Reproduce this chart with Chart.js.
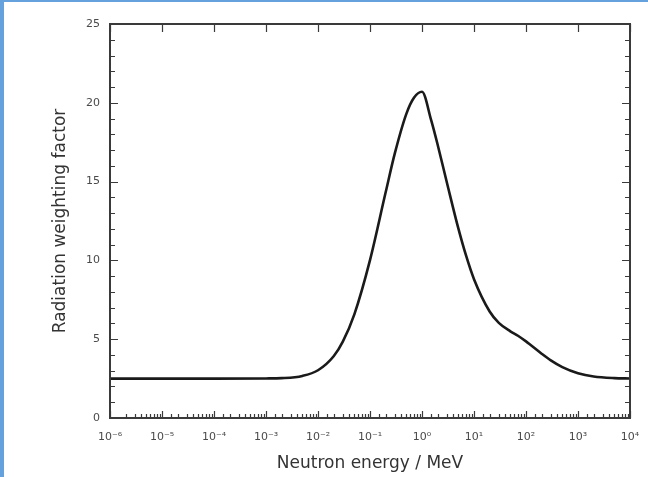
<!DOCTYPE html>
<html>
<head>
<meta charset="utf-8">
<script src="https://cdn.jsdelivr.net/npm/chart.js@4"></script>
<style>
  html, body { margin: 0; padding: 0; background: #fff; }
  #wrap {
    width: 648px; height: 477px; box-sizing: border-box;
    border-left: 4px solid #65a1dd; border-top: 2px solid #65a1dd;
  }
  canvas { display: block; }
</style>
</head>
<body>
<div id="wrap"><canvas id="chart" width="644" height="475"></canvas></div>
<script>
// Facteur de pondération neutrons vs énergie.
var energyMeV = [1e-6, 1e-5, 1e-4, 1e-3, 2e-3, 5e-3, 0.01, 0.02, 0.03, 0.05,
  0.1, 0.2, 0.3, 0.5, 0.7, 1, 1.5, 2, 3, 5, 7, 10, 20, 30, 50, 70,
  100, 200, 300, 500, 1000, 2000, 5000, 10000];
var weightFactor = [2.5, 2.5, 2.5, 2.51, 2.53, 2.67, 3.03, 3.92, 4.85, 6.58,
  10.02, 14.32, 16.79, 19.3, 20.32, 20.7, 18.9, 17.34, 14.96, 12.03, 10.33, 8.81, 6.76, 6.04, 5.5, 5.22,
  4.86, 4.08, 3.66, 3.23, 2.84, 2.63, 2.53, 2.51];

var xTickValues = [1e-6, 1e-5, 1e-4, 1e-3, 1e-2, 1e-1, 1, 10, 100, 1000, 10000];
var xTickLabels = ["10⁻⁶", "10⁻⁵", "10⁻⁴", "10⁻³", "10⁻²", "10⁻¹", "10⁰", "10¹", "10²", "10³", "10⁴"];
var yMajorStep = 5;

var frameColor = "#3a3a3a";
var tickFg = "#4a4a4a";
var titleFg = "#333333";
var family = "'DejaVu Sans', sans-serif";

function decadeIndex(v) {
  var l = Math.log10(v);
  var e = Math.round(l);
  if (Math.abs(l - e) > 1e-6) return -1;
  return xTickValues.indexOf(Math.pow(10, e)) >= 0 ? e + 6 : -1;
}

// Ticks vers l'intérieur (majeurs/mineurs) + cadre, comme sur le tracé d'origine.
var insideTicks = {
  id: "insideTicks",
  afterDraw: function (chart) {
    var ctx = chart.ctx;
    var a = chart.chartArea;
    var xs = chart.scales.x;
    var ys = chart.scales.y;
    ctx.save();
    ctx.strokeStyle = frameColor;
    ctx.lineWidth = 1.2;
    ctx.beginPath();
    xs.ticks.forEach(function (t) {
      var px = Math.round(xs.getPixelForValue(t.value)) + 0.5;
      var major = decadeIndex(t.value) >= 0;
      var len = major ? 7 : 4;
      ctx.moveTo(px, a.bottom);
      ctx.lineTo(px, a.bottom - len);
      if (major) {
        ctx.moveTo(px, a.top);
        ctx.lineTo(px, a.top + 8);
      }
    });
    ys.ticks.forEach(function (t) {
      var py = Math.round(ys.getPixelForValue(t.value)) + 0.5;
      var len = t.value % yMajorStep === 0 ? 8 : 5;
      ctx.moveTo(a.left, py);
      ctx.lineTo(a.left + len, py);
      ctx.moveTo(a.right, py);
      ctx.lineTo(a.right - len, py);
    });
    ctx.stroke();
    ctx.lineWidth = 2;
    ctx.strokeRect(a.left, a.top, a.right - a.left, a.bottom - a.top);
    ctx.restore();
  },
};

document.addEventListener("DOMContentLoaded", function () {
  new Chart(document.getElementById("chart"), {
    type: "line",
    data: {
      datasets: [{
        data: energyMeV.map(function (e, i) { return { x: e, y: weightFactor[i] }; }),
        borderColor: "#1a1a1a",
        borderWidth: 2.6,
        pointRadius: 0,
        fill: false,
        cubicInterpolationMode: "monotone",
      }],
    },
    options: {
      responsive: false,
      animation: false,
      events: [],
      layout: { padding: { left: 0, top: 22, right: 18, bottom: 0 } },
      plugins: { legend: { display: false }, tooltip: { enabled: false } },
      scales: {
        x: {
          type: "logarithmic",
          min: 1e-6,
          max: 1e4,
          grid: { display: false, drawTicks: false },
          border: { display: false },
          ticks: {
            autoSkip: false,
            maxRotation: 0,
            padding: 13,
            color: tickFg,
            font: { family: family, size: 11 },
            callback: function (v) {
              var i = decadeIndex(v);
              return i >= 0 ? xTickLabels[i] : "";
            },
          },
          title: {
            display: true,
            text: "Neutron energy / MeV",
            color: titleFg,
            font: { family: family, size: 17 },
            padding: { top: 0, bottom: 3 },
          },
          afterFit: function (s) {
            s.height = 59;
            s.paddingLeft = 0;
            s.paddingRight = 0;
          },
        },
        y: {
          min: 0,
          max: 25,
          grid: { display: false, drawTicks: false },
          border: { display: false },
          ticks: {
            stepSize: 1,
            autoSkip: false,
            padding: 10,
            color: tickFg,
            font: { family: family, size: 11 },
            callback: function (v) { return v % yMajorStep === 0 ? String(v) : ""; },
          },
          title: {
            display: true,
            text: "Radiation weighting factor",
            color: titleFg,
            font: { family: family, size: 17 },
            padding: { top: 46, bottom: 0 },
          },
          afterFit: function (s) {
            s.width = 106;
            s.paddingTop = 0;
            s.paddingBottom = 0;
          },
        },
      },
    },
    plugins: [insideTicks],
  });
});
</script>
</body>
</html>
